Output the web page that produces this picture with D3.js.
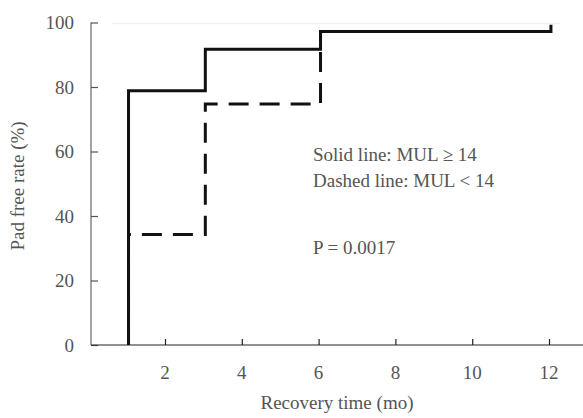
<!DOCTYPE html>
<html>
  <head>
    <script src="https://d3js.org/d3.v7.min.js" charset="utf-8"></script>
    <style>
      body { margin: 0; background: #fff; }
      svg text { font-family: "Liberation Serif", "Times New Roman", serif; fill: #555; }
    </style>
  </head>
  <body>
    <svg></svg>
    <script>
      // step points of the two Kaplan-Meier curves
      const solidTimes = [1.05, 1.05, 3.05, 6.05, 12.05, 12.05];
      const solidRates = [0, 78.8, 91.7, 97.2, 97.2, 99.3];
      const dashedTimes = [1.05, 1.05, 3.05, 6.05, 12.05];
      const dashedRates = [0, 34.3, 74.7, 97.2, 97.2];
      const xTicks = [2, 4, 6, 8, 10, 12];
      const yTicks = [0, 20, 40, 60, 80, 100];
      const notes = ["Solid line: MUL \u2265 14", "Dashed line: MUL < 14"];
      const pNote = "P = 0.0017";

      const W = 583, H = 418;
      const fs = 19;
      const svg = d3.select("svg").attr("width", W).attr("height", H);

      const x = d3.scaleLinear().domain([0.073, 12.885]).range([91, 583]);
      const y = d3.scaleLinear().domain([0, 100]).range([345, 22.5]);

      // faint line at the top of the plot
      svg.append("line")
        .attr("x1", x(0.6)).attr("x2", x(12.3))
        .attr("y1", y(100) + 1).attr("y2", y(100) + 1)
        .attr("stroke", "#f2f2f2").attr("stroke-width", 1.5);

      // y axis, ticks pointing inward
      const yAxis = svg.append("g")
        .attr("transform", `translate(91,0)`)
        .call(d3.axisRight(y).tickValues(yTicks).tickSize(7).tickFormat(""));
      yAxis.select(".domain").attr("stroke", "#666").attr("stroke-width", 1.2)
        .attr("d", `M0,${y(100)}V${y(0)}`);
      yAxis.selectAll(".tick line").attr("stroke", "#555").attr("stroke-width", 1.2);

      svg.selectAll(".ylab").data(yTicks).enter().append("text")
        .attr("x", 74).attr("y", (d) => y(d) + 6.5)
        .attr("text-anchor", "end").attr("font-size", fs).text((d) => d);

      // x axis, ticks pointing up
      const xAxis = svg.append("g")
        .attr("transform", `translate(0,${y(0)})`)
        .call(d3.axisTop(x).tickValues(xTicks).tickSize(6).tickFormat(""));
      xAxis.select(".domain").attr("stroke", "#222").attr("stroke-width", 1.2)
        .attr("d", `M91,0H583`);
      xAxis.selectAll(".tick line").attr("stroke", "#222").attr("stroke-width", 1.2);

      svg.selectAll(".xlab").data(xTicks).enter().append("text")
        .attr("x", (d) => x(d)).attr("y", 379)
        .attr("text-anchor", "middle").attr("font-size", fs).text((d) => d);

      svg.append("text")
        .attr("x", 337).attr("y", 409)
        .attr("text-anchor", "middle").attr("font-size", fs)
        .text("Recovery time (mo)");

      svg.append("text")
        .attr("transform", `translate(24,186) rotate(-90)`)
        .attr("text-anchor", "middle").attr("font-size", fs)
        .text("Pad free rate (%)");

      // curves
      const line = d3.line()
        .x((d) => x(d[0])).y((d) => y(d[1]))
        .curve(d3.curveStepAfter);

      svg.append("path")
        .datum(d3.zip(dashedTimes, dashedRates))
        .attr("fill", "none").attr("stroke", "#111")
        .attr("stroke-width", 3).attr("stroke-dasharray", "20,11")
        .attr("d", line);

      svg.append("path")
        .datum(d3.zip(solidTimes, solidRates))
        .attr("fill", "none").attr("stroke", "#111")
        .attr("stroke-width", 3)
        .attr("d", line);

      // notes
      svg.selectAll(".note").data(notes).enter().append("text")
        .attr("x", 313).attr("y", (d, i) => 161 + i * 26)
        .attr("font-size", fs).text((d) => d);

      svg.append("text")
        .attr("x", 313).attr("y", 254)
        .attr("font-size", fs).text(pNote);
    </script>
  </body>
</html>
